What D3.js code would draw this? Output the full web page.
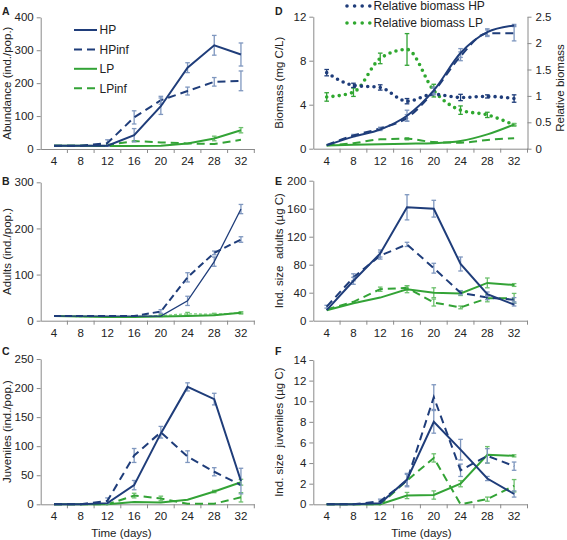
<!DOCTYPE html>
<html><head><meta charset="utf-8">
<script src="https://cdn.jsdelivr.net/npm/d3@7"></script>
<style>
body{margin:0;background:#fff;}
svg text{font-family:"Liberation Sans",Arial,sans-serif;white-space:pre;}
</style></head>
<body><svg id="c" width="567" height="540"></svg>
<script>
const days = [4,8,12,16,20,24,28,32];

// Panel A: abundance
const abundHP = [10,10,10,42,130,247,315,287];
const abundHPErr = [0,0,0,20,25,15,30,35];
const abundHPinf = [10,10,18,96,148,176,204,207];
const abundHPinfErr = [0,0,10,20,12,12,13,30];
const abundLP = [10,10,9,9,10,17,32,57];
const abundLPErr = [0,0,0,0,0,0,7,8];
const abundLPinf = [10,10,12,24,20,17,15,28];
const abundLPinfErr = [0,0,0,0,0,0,0,0];

// Panel B: adults
const adultsHP = [10,10,10,10,10,43,128,242];
const adultsHPErr = [0,0,0,0,0,10,10,10];
const adultsHPinf = [10,10,10,10,20,94,147,176];
const adultsHPinfErr = [0,0,0,0,4,10,4,6];
const adultsLP = [10,9,8,8,9,10,12,17];
const adultsLPErr = [0,0,0,0,0,0,0,2];
const adultsLPinf = [10,9,9,9,11,15,14,17];
const adultsLPinfErr = [0,0,0,0,2,3,2,2];

// Panel C: juveniles
const juvHP = [0,0,2,33,122,202,181,40];
const juvHPErr = [0,0,0,8,0,7,10,22];
const juvHPinf = [0,0,6,84,124,82,56,33];
const juvHPinfErr = [0,0,5,12,10,10,7,0];
const juvLP = [0,0,0,4,3,8,22,38];
const juvLPErr = [0,0,0,0,0,0,2,5];
const juvLPinf = [0,0,0,15,10,1,1,12];
const juvLPinfErr = [0,0,0,4,4,0,0,8];

// Panel D: biomass (left) and relative biomass (right)
const bioHP = [0.3,1.1,1.75,3.0,5.3,8.7,10.6,11.2];
const bioHPErr = [0,0,0.1,0.5,0.3,0.4,0.3,0.1];
const bioHPinf = [0.35,1.2,1.85,2.8,5.2,8.4,10.5,10.5];
const bioHPinfErr = [0,0.1,0.1,0.3,0.3,0.4,0.3,0.7];
const bioLP = [0.3,0.35,0.4,0.45,0.5,0.7,1.3,2.2];
const bioLPErr = [0,0,0,0,0,0,0,0.1];
const bioLPinf = [0.3,0.5,0.85,0.9,0.6,0.55,0.8,0.95];
const bioLPinfErr = [0,0,0,0.1,0,0,0,0];
const relHP = [1.44,1.2,1.16,0.9,1.03,0.97,0.99,0.95];
const relHPErr = [0.06,0.04,0.05,0.05,0,0.06,0.03,0.07];
const relLP = [0.98,1.07,1.71,1.88,1.1,0.73,0.64,0.45];
const relLPErr = [0.08,0.08,0.1,0.3,0.12,0.08,0.05,0.02];

// Panel E: individual size adults
const sizeAdHP = [15,57,96,162,160,81,38,23];
const sizeAdHPErr = [0,5,5,18,12,10,3,2];
const sizeAdHPinf = [20,62,93,109,75,40,33,30];
const sizeAdHPinfErr = [2,5,5,3,7,3,3,3];
const sizeAdLP = [15,25,33,45,40,39,54,51];
const sizeAdLPErr = [0,0,0,5,7,3,7,2];
const sizeAdLPinf = [16,27,45,47,26,19,32,32];
const sizeAdLPinfErr = [0,0,3,3,5,2,5,7];

// Panel F: individual size juveniles
const sizeJuvHP = [0,0,0.1,2.4,8.0,5.3,2.5,1.0];
const sizeJuvHPErr = [0,0,0,0.6,1.1,1.0,0.2,0.3];
const sizeJuvHPinf = [0,0,0.3,2.3,10.4,3.3,4.7,3.7];
const sizeJuvHPinfErr = [0,0,0.2,0.6,1.2,0.6,0.7,0.4];
const sizeJuvLP = [0,0,0,0.85,0.9,2.0,4.8,4.7];
const sizeJuvLPErr = [0,0,0,0.3,0.4,0.3,0.8,0.1];
const sizeJuvLPinf = [0,0,0,2.3,4.5,0,0.5,1.8];
const sizeJuvLPinfErr = [0,0,0,0,0.4,0,0.2,0.6];

const NAVY = "#1f3d7a", GREEN = "#33a336", NAVYERR = "#7f97bf", GREENERR = "#6cc06c", AXIS = "#8a8a8a", TXT = "#222";

const svg = d3.select("#c");

function drawPanel(o){
  const g = svg.append("g");
  const x = d3.scaleBand().domain(days).range([o.x0, o.x1]).padding(0);
  const y = d3.scaleLinear().domain([0, o.ymax]).range([o.yb, o.yt]);
  const cx = d => x(d) + x.bandwidth()/2;
  const ya = g.append("g").attr("transform", `translate(${o.x0},0)`)
    .call(d3.axisLeft(y).tickValues(o.yticks).tickSize(4).tickSizeOuter(0).tickPadding(3).tickFormat(o.yfmt || d3.format("d")));
  ya.select(".domain").attr("stroke", AXIS);
  ya.selectAll(".tick line").attr("stroke", AXIS);
  ya.selectAll("text").attr("font-size", 11.5).attr("fill", TXT).attr("font-family", "Liberation Sans, Arial");
  const xa = g.append("g").attr("transform", `translate(0,${o.yb})`)
    .call(d3.axisBottom(x).tickSize(0).tickPadding(8));
  xa.select(".domain").attr("stroke", AXIS);
  xa.selectAll("text").attr("font-size", 11.5).attr("fill", TXT).attr("font-family", "Liberation Sans, Arial");
  g.append("g").selectAll("line").data(days.slice(1).concat(["end"])).join("line")
    .attr("x1", d => d === "end" ? o.x1 : x(d)).attr("x2", d => d === "end" ? o.x1 : x(d))
    .attr("y1", o.yb).attr("y2", o.yb + 4).attr("stroke", AXIS);

  function series(vals, errs, color, errColor, dash, width, yy, curve){
    yy = yy || y;
    const line = d3.line().x((v,i) => cx(days[i])).y(v => yy(v));
    if (curve) line.curve(curve);
    const eg = g.append("g");
    days.forEach((d,i) => {
      const e = errs[i];
      if (!e) return;
      const px = cx(d), a = yy(vals[i]+e), b = yy(Math.max(0, vals[i]-e));
      eg.append("line").attr("x1", px).attr("x2", px).attr("y1", a).attr("y2", b).attr("stroke", errColor).attr("stroke-width", 1.3);
      eg.append("line").attr("x1", px-2.3).attr("x2", px+2.3).attr("y1", a).attr("y2", a).attr("stroke", errColor).attr("stroke-width", 1.3);
      eg.append("line").attr("x1", px-2.3).attr("x2", px+2.3).attr("y1", b).attr("y2", b).attr("stroke", errColor).attr("stroke-width", 1.3);
    });
    const p = g.append("path").datum(vals).attr("d", line).attr("fill", "none")
      .attr("stroke", color).attr("stroke-width", width);
    if (dash === "dot") p.attr("stroke-dasharray", "0,6.3").attr("stroke-linecap", "round").attr("stroke-width", 3.6);
    else if (dash) p.attr("stroke-dasharray", dash);
  }
  o.series.forEach(s => series(s.v, s.e, s.c, s.ec, s.dash, s.w || 2, s.right ? o.yr : null, o.curve));
  g.append("text").attr("x", o.lx).attr("y", o.ly).attr("font-weight", "bold").attr("font-size", 10.5).attr("fill", TXT).text(o.letter);
  g.append("text").attr("transform", `translate(${o.x0-30},${(o.yt+o.yb)/2}) rotate(-90)`)
    .attr("text-anchor", "middle").attr("font-size", 11.5).attr("fill", TXT).text(o.ylabel);
  if (o.xlabel) g.append("text").attr("x", o.xlabelX).attr("y", 537).attr("text-anchor", "middle")
    .attr("font-size", 11.5).attr("fill", TXT).text(o.xlabel);
  return {g, x, y, cx};
}

const L = {x0: 40.7, x1: 254.3}, R = {x0: 313.3, x1: 527.5};

// A
drawPanel({...L, yt: 17.3, yb: 149, ymax: 400, yticks: [0,100,200,300,400], letter: "A", lx: 2, ly: 15,
  ylabel: "Abundance (ind./pop.)",
  series: [
    {v: abundLP, e: abundLPErr, c: GREEN, ec: GREENERR},
    {v: abundLPinf, e: abundLPinfErr, c: GREEN, ec: GREENERR, dash: "8,5"},
    {v: abundHPinf, e: abundHPinfErr, c: NAVY, ec: NAVYERR, dash: "8,5"},
    {v: abundHP, e: abundHPErr, c: NAVY, ec: NAVYERR}
  ]});
const legA = [["HP", NAVY, null], ["HPinf", NAVY, "8,5"], ["LP", GREEN, null], ["LPinf", GREEN, "8,5"]];
legA.forEach((d,i) => {
  const yy = 30 + i*19.4;
  const l = svg.append("line").attr("x1", 74).attr("x2", 97).attr("y1", yy).attr("y2", yy).attr("stroke", d[1]).attr("stroke-width", 2);
  if (d[2]) l.attr("stroke-dasharray", d[2]);
  svg.append("text").attr("x", 99.5).attr("y", yy + 4.3).attr("font-size", 12).attr("fill", TXT).text(d[0]);
});

// B
drawPanel({...L, yt: 182.3, yb: 320.7, ymax: 300, yticks: [0,100,200,300], letter: "B", lx: 2, ly: 185,
  ylabel: "Adults (ind./pop.)",
  series: [
    {v: adultsLPinf, e: adultsLPinfErr, c: "#7ccf7c", ec: GREENERR, dash: "3,2", w: 1.3},
    {v: adultsLP, e: adultsLPErr, c: GREEN, ec: GREENERR},
    {v: adultsHPinf, e: adultsHPinfErr, c: NAVY, ec: NAVYERR, dash: "7,4"},
    {v: adultsHP, e: adultsHPErr, c: NAVY, ec: NAVYERR, w: 1.3}
  ]});

// C
drawPanel({...L, yt: 359, yb: 504.3, ymax: 250, yticks: [0,50,100,150,200,250], letter: "C", lx: 2, ly: 355,
  ylabel: "Juveniles (ind./pop.)", xlabel: "Time (days)", xlabelX: 121.5,
  series: [
    {v: juvLPinf, e: juvLPinfErr, c: GREEN, ec: GREENERR, dash: "8,5"},
    {v: juvLP, e: juvLPErr, c: GREEN, ec: GREENERR},
    {v: juvHPinf, e: juvHPinfErr, c: NAVY, ec: NAVYERR, dash: "8,5"},
    {v: juvHP, e: juvHPErr, c: NAVY, ec: NAVYERR}
  ]});

// D
const yrD = d3.scaleLinear().domain([0, 2.5]).range([148.7, 16.7]);
drawPanel({...R, yt: 16.7, yb: 148.7, ymax: 12, yticks: [0,4,8,12], letter: "D", lx: 275, ly: 15,
  ylabel: "Biomass (mg C/L)", yr: yrD, curve: d3.curveMonotoneX,
  series: [
    {v: relLP, e: relLPErr, c: "#2fa82f", ec: GREEN, dash: "dot", right: true},
    {v: relHP, e: relHPErr, c: NAVY, ec: NAVY, dash: "dot", right: true},
    {v: bioLPinf, e: bioLPinfErr, c: GREEN, ec: GREENERR, dash: "8,5"},
    {v: bioLP, e: bioLPErr, c: GREEN, ec: GREENERR},
    {v: bioHPinf, e: bioHPinfErr, c: NAVY, ec: NAVYERR, dash: "8,5"},
    {v: bioHP, e: bioHPErr, c: NAVY, ec: NAVYERR}
  ]});
const ra = svg.append("g").attr("transform", `translate(${R.x1},0)`)
  .call(d3.axisRight(yrD).tickValues([0,0.5,1,1.5,2,2.5]).tickSize(4).tickSizeOuter(0).tickPadding(4).tickFormat(d => d3.format("")(d)));
ra.select(".domain").attr("stroke", AXIS);
ra.selectAll(".tick line").attr("stroke", AXIS);
ra.selectAll("text").attr("font-size", 11.5).attr("fill", TXT).attr("font-family", "Liberation Sans, Arial");
svg.append("text").attr("transform", `translate(564,88) rotate(-90)`).attr("text-anchor", "middle")
  .attr("font-size", 11.5).attr("fill", TXT).text("Relative biomass");
[["Relative biomass HP", NAVY, 6], ["Relative biomass LP", "#2fa82f", 23]].forEach(d => {
  svg.append("line").attr("x1", 347).attr("x2", 370).attr("y1", d[2]).attr("y2", d[2]).attr("stroke", d[1])
    .attr("stroke-width", 3.6).attr("stroke-dasharray", "0,7.6").attr("stroke-linecap", "round");
  svg.append("text").attr("x", 373.5).attr("y", d[2] + 4.3).attr("font-size", 12).attr("fill", TXT).text(d[0]);
});

// E
drawPanel({...R, yt: 180.7, yb: 320.7, ymax: 200, yticks: [0,40,80,120,160,200], letter: "E", lx: 275, ly: 185,
  ylabel: "Ind. size  adults (µg C)",
  series: [
    {v: sizeAdLPinf, e: sizeAdLPinfErr, c: GREEN, ec: GREENERR, dash: "8,5"},
    {v: sizeAdLP, e: sizeAdLPErr, c: GREEN, ec: GREENERR},
    {v: sizeAdHPinf, e: sizeAdHPinfErr, c: NAVY, ec: NAVYERR, dash: "8,5"},
    {v: sizeAdHP, e: sizeAdHPErr, c: NAVY, ec: NAVYERR}
  ]});

// F
drawPanel({...R, yt: 360, yb: 504.3, ymax: 14, yticks: [0,2,4,6,8,10,12,14], letter: "F", lx: 275, ly: 355,
  ylabel: "Ind. size  juveniles (µg C)", xlabel: "Time (days)", xlabelX: 421.5,
  series: [
    {v: sizeJuvLPinf, e: sizeJuvLPinfErr, c: GREEN, ec: GREENERR, dash: "8,5"},
    {v: sizeJuvLP, e: sizeJuvLPErr, c: GREEN, ec: GREENERR},
    {v: sizeJuvHPinf, e: sizeJuvHPinfErr, c: NAVY, ec: NAVYERR, dash: "8,5"},
    {v: sizeJuvHP, e: sizeJuvHPErr, c: NAVY, ec: NAVYERR}
  ]});
</script></body></html>
